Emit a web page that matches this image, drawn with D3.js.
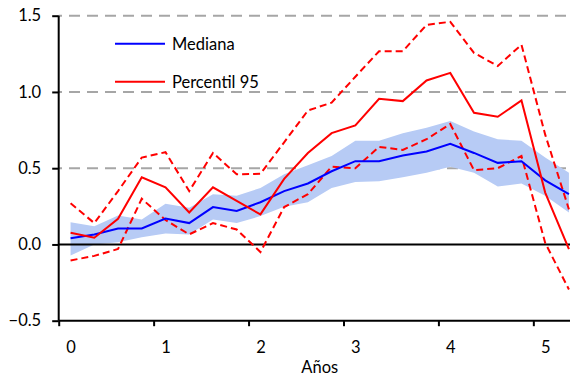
<!DOCTYPE html>
<html>
<head>
<meta charset="utf-8">
<script src="https://cdn.jsdelivr.net/npm/d3@7"></script>
<style>
  body { margin: 0; background: #fff; }
  svg { display: block; font-family: Lato, "Open Sans", sans-serif; }
  .grid line { stroke: #a6a6a6; stroke-width: 2; stroke-dasharray: 11,7; stroke-dashoffset: 7.7; }
</style>
</head>
<body>
<svg width="570" height="375"></svg>
<script>
// quarterly horizon, 22 points (0 .. 5.25 years)
var median = [0.04, 0.065, 0.105, 0.105, 0.17, 0.14, 0.245, 0.22, 0.277, 0.35, 0.40,
              0.48, 0.546, 0.546, 0.583, 0.61, 0.66, 0.60, 0.535, 0.546, 0.42, 0.33];
var bandHigh = [0.146, 0.12, 0.19, 0.164, 0.267, 0.24, 0.33, 0.32, 0.37, 0.46, 0.52,
                0.58, 0.68, 0.68, 0.73, 0.765, 0.81, 0.74, 0.69, 0.68, 0.57, 0.47];
var bandLow = [-0.072, 0.0, 0.015, 0.048, 0.072, 0.066, 0.164, 0.14, 0.186, 0.247, 0.277,
               0.37, 0.41, 0.415, 0.44, 0.47, 0.51, 0.47, 0.38, 0.40, 0.32, 0.21];
var p95 = [0.077, 0.044, 0.168, 0.44, 0.375, 0.21, 0.375, 0.285, 0.197, 0.43, 0.60,
           0.73, 0.78, 0.955, 0.94, 1.075, 1.125, 0.863, 0.837, 0.944, 0.34, -0.03];
var p95High = [0.27, 0.14, 0.35, 0.57, 0.605, 0.35, 0.60, 0.46, 0.463, 0.67, 0.878,
               0.93, 1.10, 1.267, 1.267, 1.44, 1.46, 1.256, 1.17, 1.31, 0.72, 0.23];
var p95Low = [-0.105, -0.075, -0.03, 0.30, 0.16, 0.066, 0.14, 0.098, -0.05, 0.245, 0.33,
              0.51, 0.50, 0.64, 0.62, 0.69, 0.79, 0.487, 0.50, 0.58, 0.01, -0.295];

var yearLabels = ["0", "1", "2", "3", "4", "5"];
var yTicks = [-0.5, 0, 0.5, 1.0, 1.5];
var gridTicks = [0.5, 1.0, 1.5];
var legendNames = ["Mediana", "Percentil 95"];

var svg = d3.select("svg");
var fontSize = "16.5px";

// category axis: one slot per quarter, chart is cut off on the right
var x = d3.scaleLinear().domain([-0.5, 21.5]).range([58.7, 580.8]);
var y = d3.scaleLinear().domain([-0.5, 1.5]).range([320.7, 15.7]);

// dashed gridlines
svg.append("g").attr("class", "grid")
  .selectAll("line")
  .data(gridTicks)
  .enter().append("line")
    .attr("x1", x(-0.5)).attr("x2", 570)
    .attr("y1", function(d) { return y(d); })
    .attr("y2", function(d) { return y(d); });

// shaded band
var area = d3.area()
    .x(function(d, i) { return x(i); })
    .y0(function(d, i) { return y(bandLow[i]); })
    .y1(function(d, i) { return y(bandHigh[i]); });

svg.append("path")
    .datum(bandHigh)
    .attr("fill", "#b7cbf5")
    .attr("d", area);

// zero line
svg.append("line")
    .attr("x1", x(-0.5)).attr("x2", 570)
    .attr("y1", y(0)).attr("y2", y(0))
    .attr("stroke", "#000").attr("stroke-width", 2);

var line = d3.line()
    .x(function(d, i) { return x(i); })
    .y(function(d) { return y(d); });

[p95High, p95Low].forEach(function(s) {
  svg.append("path")
      .datum(s)
      .attr("fill", "none")
      .attr("stroke", "#ff0000")
      .attr("stroke-width", 2)
      .attr("stroke-dasharray", "7,4")
      .attr("d", line);
});

svg.append("path")
    .datum(median)
    .attr("fill", "none")
    .attr("stroke", "#0000ff")
    .attr("stroke-width", 2)
    .attr("d", line);

svg.append("path")
    .datum(p95)
    .attr("fill", "none")
    .attr("stroke", "#ff0000")
    .attr("stroke-width", 2)
    .attr("d", line);

// y axis
var yAxis = svg.append("g")
    .attr("transform", "translate(" + x(-0.5) + ",0)")
    .call(d3.axisLeft(y)
      .tickValues(yTicks)
      .tickSize(6.5)
      .tickPadding(11)
      .tickFormat(d3.format(".1f")));

// x axis: ticks between category groups, labels on first quarter of each year
var xAxis = svg.append("g")
    .attr("transform", "translate(0," + y(-0.5) + ")")
    .call(d3.axisBottom(x)
      .tickValues([-0.5, 3.5, 7.5, 11.5, 15.5, 19.5])
      .tickSize(5.5)
      .tickSizeOuter(0)
      .tickFormat(""));

var xLabels = svg.append("g")
    .attr("transform", "translate(0," + y(-0.5) + ")")
    .call(d3.axisBottom(x)
      .tickValues([0, 4, 8, 12, 16, 20])
      .tickSize(0)
      .tickPadding(21)
      .tickFormat(function(d) { return yearLabels[d / 4]; }));

yAxis.select(".domain").remove();
xAxis.select(".domain").remove();
xLabels.select(".domain").remove();

// axis lines drawn by hand so they stay flush with the plot edge
svg.append("line")
    .attr("x1", x(-0.5)).attr("x2", x(-0.5))
    .attr("y1", y(1.5)).attr("y2", y(-0.5))
    .attr("stroke", "#000").attr("stroke-width", 2);
svg.append("line")
    .attr("x1", x(-0.5)).attr("x2", 570)
    .attr("y1", y(-0.5)).attr("y2", y(-0.5))
    .attr("stroke", "#000").attr("stroke-width", 2);

svg.selectAll(".tick line").attr("stroke", "#000").attr("stroke-width", 2);
svg.selectAll(".tick text")
    .attr("fill", "#000")
    .style("font-size", fontSize)
    .style("font-family", "Lato, sans-serif");

svg.append("text")
    .attr("x", (x(-0.5) + x(21.5)) / 2)
    .attr("y", 372.5)
    .attr("text-anchor", "middle")
    .style("font-size", fontSize)
    .text("Años");

// legend
var legendColors = ["#0000ff", "#ff0000"];
var legend = svg.append("g").selectAll("g")
    .data(legendNames)
  .enter().append("g")
    .attr("transform", function(d, i) { return "translate(115," + (43.7 + i * 38) + ")"; });

legend.append("line")
    .attr("x1", 0).attr("x2", 50)
    .attr("stroke", function(d, i) { return legendColors[i]; })
    .attr("stroke-width", 2);

legend.append("text")
    .attr("x", 57)
    .attr("y", 6)
    .style("font-size", fontSize)
    .text(function(d) { return d; });
</script>
</body>
</html>
